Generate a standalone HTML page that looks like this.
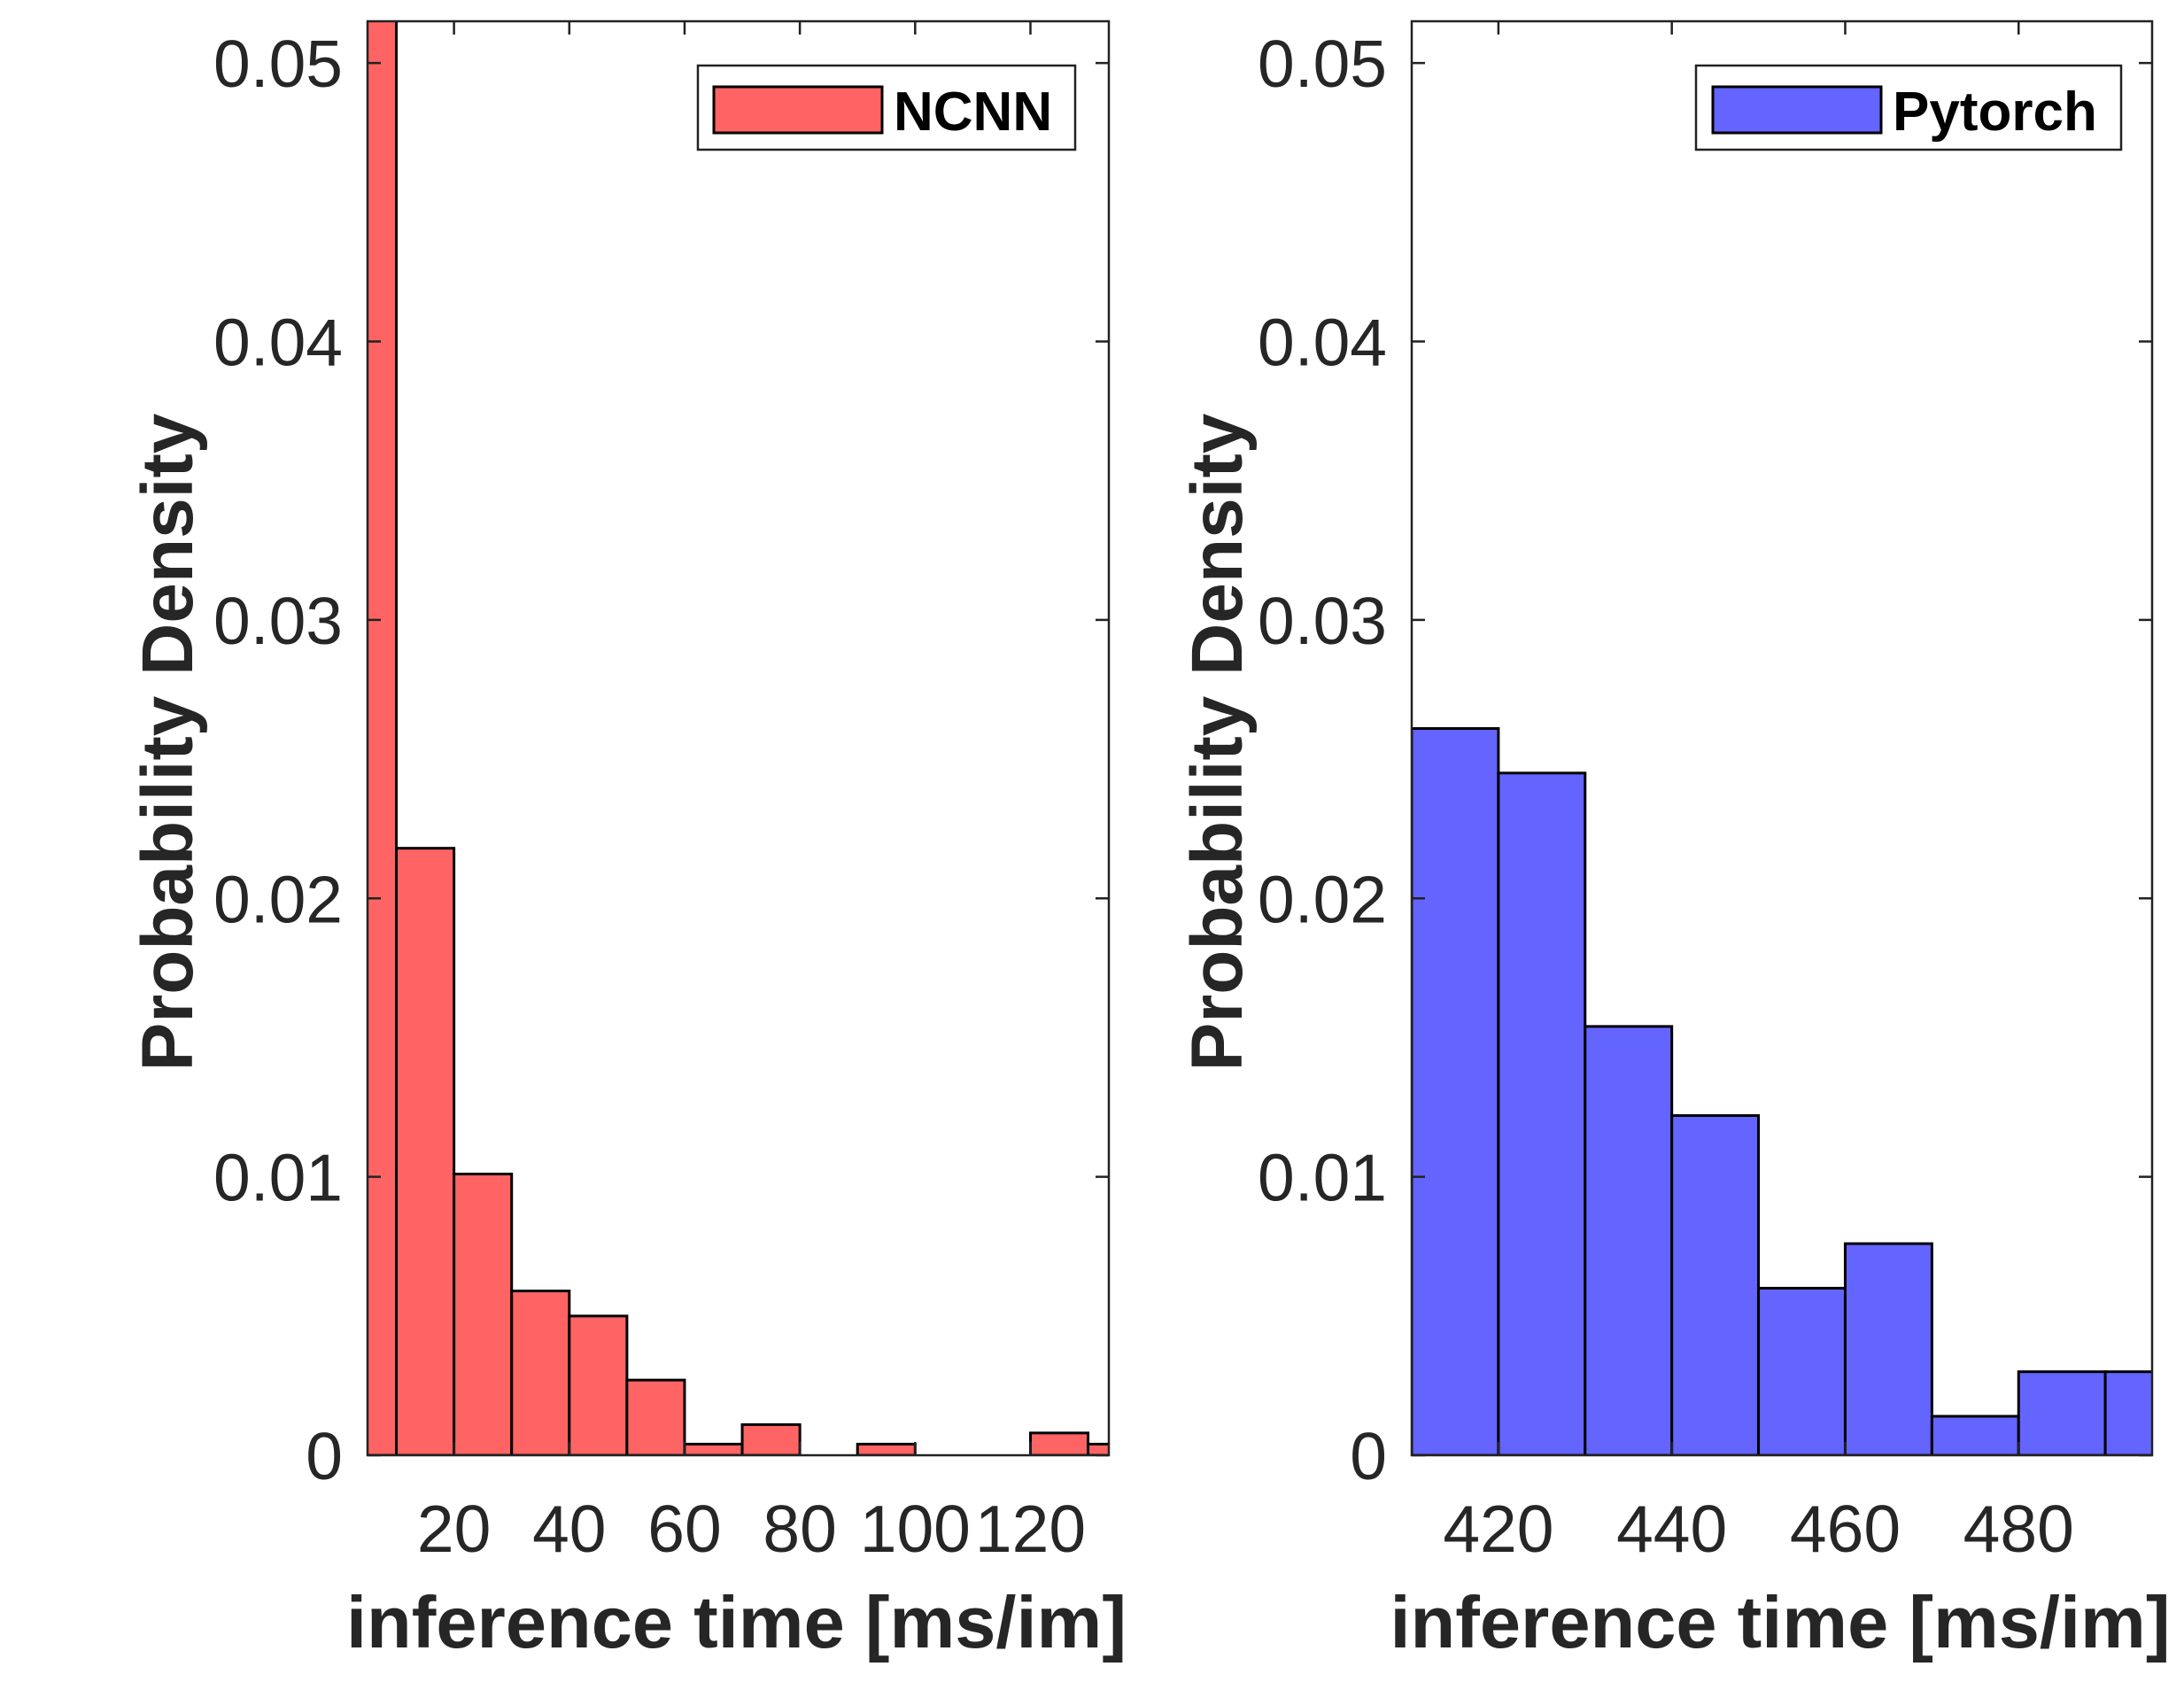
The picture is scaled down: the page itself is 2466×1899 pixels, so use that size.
<!DOCTYPE html>
<html><head><meta charset="utf-8"><style>
body{margin:0;background:#fff}
svg text{font-family:"Liberation Sans",Arial,sans-serif}
</style></head><body>
<svg id="c" width="2466" height="1894" xmlns="http://www.w3.org/2000/svg"></svg>
<script>
const ncnnEdges=[0,10,20,30,40,50,60,70,80,90,100,110,120,130];
const ncnnValues=[0.06,0.0218,0.0101,0.0059,0.0050,0.0027,0.0004,0.0011,0,0.0004,0,0,0.0008,0.0004];
const ncnnXTicks=[20,40,60,80,100,120];
const torchEdges=[410,420,430,440,450,460,470,480,490];
const torchValues=[0.0261,0.0245,0.0154,0.0122,0.0060,0.0076,0.0014,0.0030,0.0030];
const torchXTicks=[420,440,460,480];
const yTicks=[0,0.01,0.02,0.03,0.04,0.05];
const yTickLabels=["0","0.01","0.02","0.03","0.04","0.05"];
const NS="http://www.w3.org/2000/svg";
const svg=document.getElementById('c');
function mk(tag,attrs,parent){const e=document.createElementNS(NS,tag);for(const k in attrs)e.setAttribute(k,attrs[k]);(parent||svg).appendChild(e);return e;}
function panel(cfg){
 const g=mk('g',{});
 
 
 const {x0,x1,y0,y1,xmin,xmax,ymax}=cfg;
 const sx=v=>x0+(v-xmin)/(xmax-xmin)*(x1-x0);
 const sy=v=>y1-v/ymax*(y1-y0);
 const cp='clip-'+cfg.name;
 const cl=mk('clipPath',{id:cp},g);mk('rect',{x:x0,y:y0,width:x1-x0,height:y1-y0},cl);
 const bg=mk('g',{'clip-path':'url(#'+cp+')'},g);
 for(let i=0;i<cfg.values.length;i++){
  const a=sx(cfg.edges[i]),b=sx(cfg.edges[i]+10),v=cfg.values[i];
  if(v<=0)continue;
  const r=mk('rect',{x:a,y:sy(v),width:b-a,height:y1-sy(v),fill:cfg.color,stroke:'#000','stroke-width':3},bg);
  
  
 }
 mk('rect',{x:x0,y:y0,width:x1-x0,height:y1-y0,fill:'none',stroke:'#222','stroke-width':2.5},g);
 yTicks.forEach((t,i)=>{const y=sy(t);
  mk('line',{x1:x0,x2:x0+15,y1:y,y2:y,stroke:'#222','stroke-width':2.5},g);
  mk('line',{x1:x1,x2:x1-15,y1:y,y2:y,stroke:'#222','stroke-width':2.5},g);
  const tx=mk('text',{x:x0-28,y:y+27,'font-size':75,'text-anchor':'end',fill:'#262626'},g);tx.textContent=yTickLabels[i];
  
  
 });
 cfg.xticks.forEach(t=>{const x=sx(t);
  mk('line',{x1:x,x2:x,y1:y1,y2:y1-15,stroke:'#222','stroke-width':2.5},g);
  mk('line',{x1:x,x2:x,y1:y0,y2:y0+15,stroke:'#222','stroke-width':2.5},g);
  const tx=mk('text',{x:x,y:1752,'font-size':75,'text-anchor':'middle',fill:'#262626'},g);tx.textContent=t;
  
  
 });
 const yl=mk('text',{x:0,y:0,'font-size':82,'font-weight':'bold','text-anchor':'middle',fill:'#262626',transform:`translate(${cfg.ylx},838) rotate(-90)`},g);
 yl.textContent='Probability Density';
 
 
 const xl=mk('text',{x:(x0+x1)/2-2,y:1860,'font-size':83,'font-weight':'bold','text-anchor':'middle',fill:'#262626'},g);
 xl.textContent='inference time [ms/im]';
 
 
 const lg=mk('g',{},g);
 
 
 mk('rect',{x:cfg.lg[0],y:74,width:cfg.lg[1]-cfg.lg[0],height:95,fill:'#fff',stroke:'#222','stroke-width':2.5},lg);
 mk('rect',{x:cfg.lg[2],y:98,width:190,height:52,fill:cfg.color,stroke:'#000','stroke-width':3},lg);
 const lt=mk('text',{x:cfg.lg[2]+203,y:147,'font-size':62,'font-weight':'bold',fill:'#000'},lg);lt.textContent=cfg.label;
 
 
}
panel({name:'ncnn-panel',x0:415,x1:1252,y0:24,y1:1643,xmin:5,xmax:133.6,ymax:0.0515,edges:ncnnEdges,values:ncnnValues,xticks:ncnnXTicks,color:'#ff6464',ylx:217,lg:[788,1214,806],label:'NCNN'});
panel({name:'pytorch-panel',x0:1594,x1:2430,y0:24,y1:1643,xmin:410,xmax:495.4,ymax:0.0515,edges:torchEdges,values:torchValues,xticks:torchXTicks,color:'#6464ff',ylx:1402,lg:[1915,2395,1934],label:'Pytorch'});
</script>
</body></html>
